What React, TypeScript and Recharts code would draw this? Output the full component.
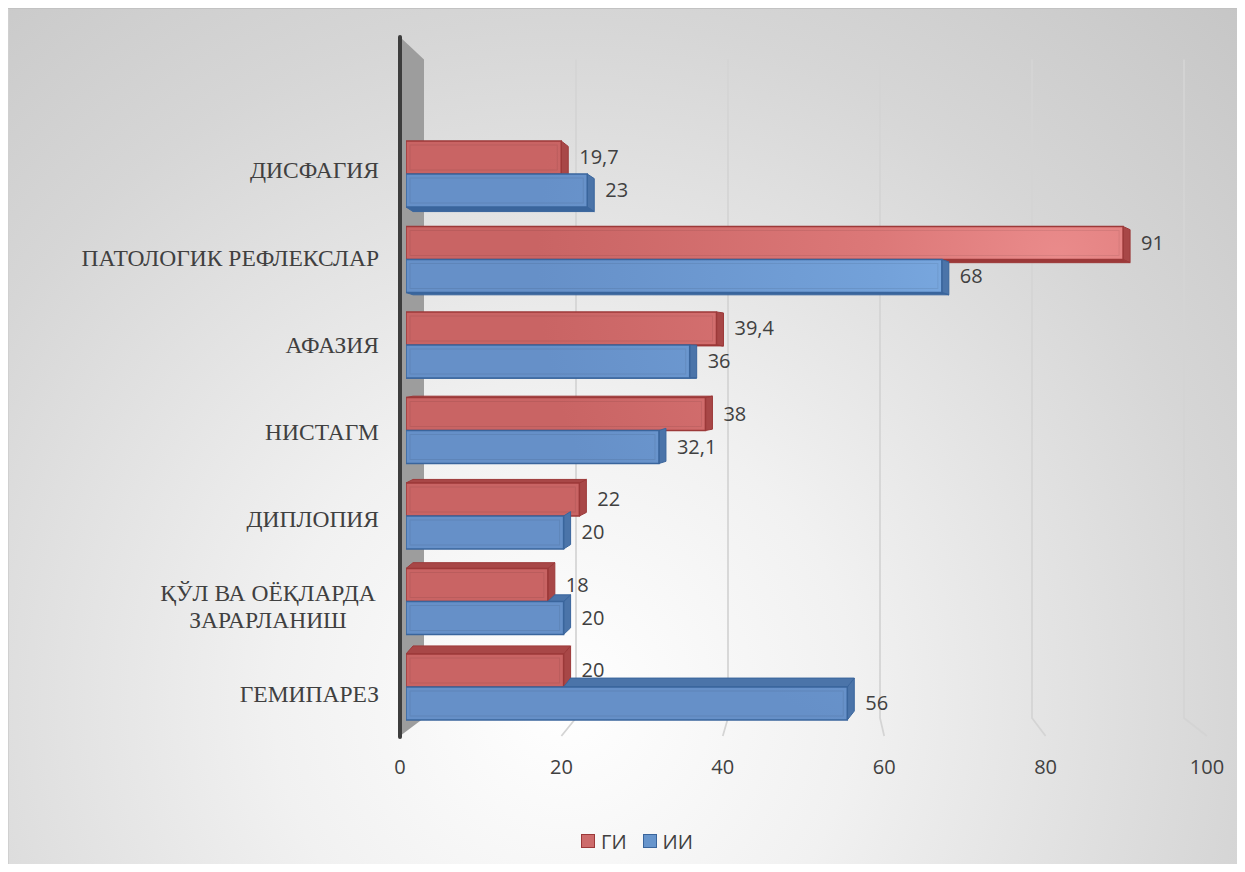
import React from 'react';
import { BarChart, Bar, XAxis, YAxis, ReferenceLine, LabelList, Legend } from 'recharts';

// ---------- data ----------
const categories = [
  'ДИСФАГИЯ',
  'ПАТОЛОГИК РЕФЛЕКСЛАР',
  'АФАЗИЯ',
  'НИСТАГМ',
  'ДИПЛОПИЯ',
  'ҚЎЛ ВА ОЁҚЛАРДА\nЗАРАРЛАНИШ',
  'ГЕМИПАРЕЗ',
];
const giValues = [19.7, 91, 39.4, 38, 22, 18, 20];
const iiValues = [23, 68, 36, 32.1, 20, 20, 56];
const seriesNames = ['ГИ', 'ИИ'];
const xTicks = [0, 20, 40, 60, 80, 100];
const gridValues = [20, 40, 60, 80, 100];

const data = categories.map((name, i) => ({ name, gi: giValues[i], ii: iiValues[i] }));

// ---------- layout ----------
const W = 1237;
const H = 864;
const MARGIN = { top: 123.25, right: 38, left: 10, bottom: 42.25 };
const YAXIS_W = 382;
const XAXIS_H = 60;
const LEGEND_H = 40;
const PLOT_LEFT = MARGIN.left + YAXIS_W;
const PLOT_RIGHT = W - MARGIN.right;
const PLOT_W = PLOT_RIGHT - PLOT_LEFT;
const PLOT_TOP = MARGIN.top;
const PLOT_BOTTOM = H - MARGIN.bottom - XAXIS_H - LEGEND_H;
const BAND = (PLOT_BOTTOM - PLOT_TOP) / categories.length;

const SANS = '"Open Sans", "Noto Sans", sans-serif';
const SERIF = '"Liberation Serif", "DejaVu Serif", serif';
const TEXT = '#404040';

const COLORS = {
  gi: { grad: 'url(#giGrad)', stroke: '#9C3939', depth: '#A84747', legend: '#CD6B6B' },
  ii: { grad: 'url(#iiGrad)', stroke: '#3A659C', depth: '#4B74A9', legend: '#6795CC' },
};

const DEPTH_X = 7;
const DY_FIRST = 5;
const DY_LAST = -8.5;

const fmt = (v: number) => String(v).replace('.', ',');

function depthY(cy: number) {
  const first = PLOT_TOP + BAND / 2;
  const last = PLOT_BOTTOM - BAND / 2;
  return DY_FIRST + ((DY_LAST - DY_FIRST) * (cy - first)) / (last - first);
}

function make3DBar(key: 'gi' | 'ii') {
  return (props: any) => {
    const { x, y, width, height, payload } = props;
    if (!width || width <= 0) return <g />;
    const c = COLORS[key];
    const cy = y + height / 2;
    const dy = depthY(cy);
    const dx = DEPTH_X;
    const r = x + width;
    const b = y + height;
    const faces: React.ReactNode[] = [];
    faces.push(
      <polygon
        key="right"
        points={`${r},${y} ${r + dx},${y + dy} ${r + dx},${b + dy} ${r},${b}`}
        fill={c.depth}
        stroke={c.stroke}
        strokeWidth={1}
      />
    );
    if (dy < 0) {
      let xs = x;
      let show = true;
      if (key === 'ii') {
        const redW = (payload.gi / payload.ii) * width;
        if (redW >= width) show = false;
        xs = x + redW;
      }
      if (show) {
        faces.push(
          <polygon
            key="top"
            points={`${xs},${y} ${r},${y} ${r + dx},${y + dy} ${xs + dx},${y + dy}`}
            fill={c.depth}
            stroke={c.stroke}
            strokeWidth={1}
          />
        );
      }
    } else if (dy > 0) {
      faces.push(
        <polygon
          key="bottom"
          points={`${x},${b} ${r},${b} ${r + dx},${b + dy} ${x + dx},${b + dy}`}
          fill={c.stroke}
          stroke={c.stroke}
          strokeWidth={1}
        />
      );
    }
    return (
      <g>
        {faces}
        <rect x={x} y={y} width={width} height={height} fill={c.grad} stroke={c.stroke} strokeWidth={1.5} />
        {width > 10 && (
          <rect
            x={x + 4}
            y={y + 4}
            width={width - 8}
            height={height - 8}
            fill="none"
            stroke="rgba(0,0,0,0.07)"
            strokeWidth={1}
          />
        )}
      </g>
    );
  };
}

const ValueLabel = (props: any) => {
  const { x, y, width, height, value } = props;
  return (
    <text
      x={x + width + 18}
      y={y + height / 2}
      dy="0.35em"
      textAnchor="start"
      fill={TEXT}
      fontSize={20}
      fontFamily={SANS}
    >
      {fmt(value)}
    </text>
  );
};

const LABEL_SHIFT_FIRST = -3.5;
const LABEL_SHIFT_LAST = 7;
const LINE_H = 27.5;
const MULTI_CENTER_OFFSET = 111;

const CategoryTick = (props: any) => {
  const { x, y, payload, index } = props;
  const lines = String(payload.value).split('\n');
  const shift = LABEL_SHIFT_FIRST + ((LABEL_SHIFT_LAST - LABEL_SHIFT_FIRST) * index) / (categories.length - 1);
  const cy = y + shift;
  const common = { fill: TEXT, fontSize: 23.5, fontFamily: SERIF };
  if (lines.length === 1) {
    return (
      <text x={x} y={cy} dy="0.33em" textAnchor="end" {...common}>
        {lines[0]}
      </text>
    );
  }
  const cx = x - MULTI_CENTER_OFFSET;
  return (
    <text x={cx} y={cy} textAnchor="middle" {...common}>
      {lines.map((l, i) => (
        <tspan key={i} x={cx} y={cy + (i - (lines.length - 1) / 2) * LINE_H} dy="0.33em">
          {l}
        </tspan>
      ))}
    </text>
  );
};

const WALL_TOP_FRONT = 94.25;
const WALL_TOP_BACK = 71.75;
const WALL_BOTTOM_BACK = 11.75;
const WALL_BOTTOM_FRONT = 6.25;
const WALL_DEPTH = 24;

const WallShape = (props: any) => {
  const { x1, y1, y2 } = props;
  const top = Math.min(y1, y2);
  const bottom = Math.max(y1, y2);
  return (
    <g>
      <polygon
        points={`${x1},${top - WALL_TOP_FRONT} ${x1 + WALL_DEPTH},${top - WALL_TOP_BACK} ${x1 + WALL_DEPTH},${bottom - WALL_BOTTOM_BACK} ${x1},${bottom + WALL_BOTTOM_FRONT}`}
        fill="#9d9d9d"
      />
      <line
        x1={x1}
        x2={x1}
        y1={top - WALL_TOP_FRONT}
        y2={bottom + WALL_BOTTOM_FRONT + 1}
        stroke="#3d3d3d"
        strokeWidth={4}
        strokeLinecap="round"
      />
    </g>
  );
};

const makeGridShape = (v: number) => (props: any) => {
  const { x1, y1, y2 } = props;
  const top = Math.min(y1, y2);
  const bottom = Math.max(y1, y2);
  const fx = PLOT_LEFT + (v / 100) * PLOT_W;
  return (
    <polyline
      points={`${x1},${top - WALL_TOP_BACK} ${x1},${bottom - WALL_BOTTOM_BACK} ${fx},${bottom + WALL_BOTTOM_FRONT}`}
      fill="none"
      stroke="#d4d4d4"
      strokeWidth={1.75}
    />
  );
};

const LegendContent = () => (
  <div
    style={{
      display: 'flex',
      alignItems: 'center',
      height: LEGEND_H,
      paddingLeft: 573,
      fontFamily: SANS,
      fontSize: 20,
      color: TEXT,
      boxSizing: 'border-box',
    }}
  >
    {seriesNames.map((n, i) => {
      const c = i === 0 ? COLORS.gi : COLORS.ii;
      return (
        <div key={n} style={{ display: 'flex', alignItems: 'center', marginRight: 16 }}>
          <span
            style={{
              display: 'inline-block',
              width: 12,
              height: 12,
              background: c.legend,
              border: `1.5px solid ${c.stroke}`,
              marginRight: 6,
            }}
          />
          <span>{n}</span>
        </div>
      );
    })}
  </div>
);

export default function App() {
  return (
    <div
      style={{
        width: W,
        height: H,
        marginBottom: -8,
        position: 'relative',
        background:
          'radial-gradient(circle farthest-corner at 45% 80%, #ffffff 0%, #f1f1f1 30%, #d6d6d6 70%, #c6c6c6 100%)',
        boxShadow: 'inset 0 1px 0 0 #c2c2c2, inset 1px 0 0 0 #d0d0d0',
      }}
    >
      <style>{'html,body{overflow:hidden}'}</style>
      <BarChart
        width={W}
        height={H}
        data={data}
        layout="vertical"
        margin={MARGIN}
        barCategoryGap="11.4%"
        barGap={0}
      >
        <defs>
          <radialGradient id="giGrad" gradientUnits="userSpaceOnUse" cx={1050} cy={250} r={520}>
            <stop offset="0%" stopColor="#EA8B8B" />
            <stop offset="35%" stopColor="#DC7878" />
            <stop offset="100%" stopColor="#C96464" />
          </radialGradient>
          <radialGradient id="iiGrad" gradientUnits="userSpaceOnUse" cx={1050} cy={250} r={520}>
            <stop offset="0%" stopColor="#80AFE6" />
            <stop offset="35%" stopColor="#73A1D9" />
            <stop offset="100%" stopColor="#6690C8" />
          </radialGradient>
        </defs>
        <XAxis
          xAxisId="front"
          type="number"
          domain={[0, 100]}
          allowDataOverflow
          ticks={xTicks}
          axisLine={false}
          tickLine={false}
          tickMargin={24}
          height={XAXIS_H}
          tick={{ fill: TEXT, fontSize: 20, fontFamily: SANS }}
        />
        <XAxis
          xAxisId="bar"
          type="number"
          domain={[0, 100]}
          allowDataOverflow
          hide
          orientation="top"
          height={0}
          padding={{ left: 6, right: 13 }}
        />
        <XAxis
          xAxisId="grid"
          type="number"
          domain={[0, 100]}
          allowDataOverflow
          hide
          orientation="top"
          height={0}
          padding={{ left: 24, right: 23 }}
        />
        <YAxis
          type="category"
          dataKey="name"
          width={YAXIS_W}
          axisLine={false}
          tickLine={false}
          tickMargin={15}
          interval={0}
          tick={<CategoryTick />}
        />
        <ReferenceLine x={0} xAxisId="front" shape={WallShape} zIndex={-50} />
        {gridValues.map((v) => (
          <ReferenceLine key={v} x={v} xAxisId="grid" shape={makeGridShape(v)} zIndex={-50} />
        ))}
        <Legend
          verticalAlign="bottom"
          height={LEGEND_H}
          wrapperStyle={{ left: 0, width: W, bottom: 11 }}
          content={<LegendContent />}
        />
        <Bar dataKey="gi" name={seriesNames[0]} xAxisId="bar" isAnimationActive={false} shape={make3DBar('gi')}>
          <LabelList dataKey="gi" content={<ValueLabel />} />
        </Bar>
        <Bar dataKey="ii" name={seriesNames[1]} xAxisId="bar" isAnimationActive={false} shape={make3DBar('ii')}>
          <LabelList dataKey="ii" content={<ValueLabel />} />
        </Bar>
      </BarChart>
    </div>
  );
}
